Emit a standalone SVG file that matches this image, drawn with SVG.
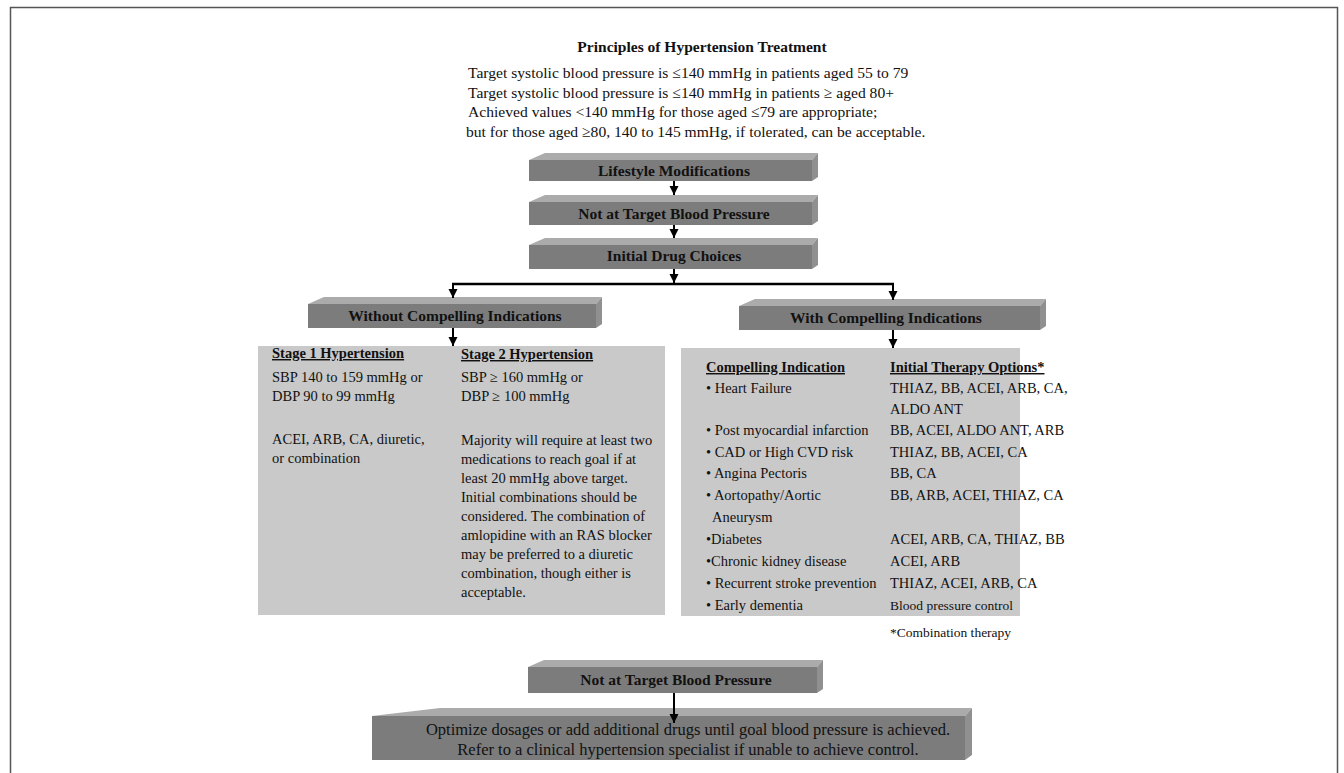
<svg xmlns="http://www.w3.org/2000/svg" width="1344" height="773" viewBox="0 0 1344 773">
<style>
text{font-family:"Liberation Serif","Times New Roman",serif;fill:#111}
.h{font-size:15.5px;font-weight:bold}
.b{font-size:15.6px}
.bb{font-size:16.5px;text-anchor:middle}
.p{font-size:14.5px}
.pb{font-size:14.5px;font-weight:bold;text-decoration:underline}
.lbl{font-size:15.5px;font-weight:bold;text-anchor:middle}
.face{fill:#7c7c7c}
.top{fill:#ababab}
.side{fill:#909090}
.panel{fill:#c9c9c9}
.conn{stroke:#000;stroke-width:2;fill:none}
</style>
<defs>
<marker id="ah" markerUnits="userSpaceOnUse" markerWidth="10" markerHeight="10" refX="9" refY="5" orient="auto">
<path d="M0,0.5 L9,5 L0,9.5 Z" fill="#000"/>
</marker>
</defs>
<rect x="0" y="0" width="1344" height="773" fill="#fff"/>
<g id="frame" fill="none" stroke="#555" stroke-width="1.5">
<path d="M10.5,773 V7.5 H1337.5 V773"/>
</g>
<g id="header">
<text class="h" x="702" y="52" text-anchor="middle">Principles of Hypertension Treatment</text>
<text class="b" x="468" y="78">Target systolic blood pressure is ≤140 mmHg in patients aged 55 to 79</text>
<text class="b" x="468" y="97.5">Target systolic blood pressure is ≤140 mmHg in patients ≥ aged 80+</text>
<text class="b" x="468" y="117">Achieved values &lt;140 mmHg for those aged ≤79 are appropriate;</text>
<text class="b" x="466" y="136.5">but for those aged ≥80, 140 to 145 mmHg, if tolerated, can be acceptable.</text>
</g>
<g id="lifestyle">
<polygon class="top" points="529,160 545,153 818,153 812,160"/>
<polygon class="side" points="812,160 818,153 818,177 812,181"/>
<rect class="face" x="529" y="160" width="283" height="21"/>
<text class="lbl" x="674" y="175.5">Lifestyle Modifications</text>
</g>
<g id="not-target-1">
<polygon class="top" points="529,202 545,195 818,195 812,202"/>
<polygon class="side" points="812,202 818,195 818,221 812,225"/>
<rect class="face" x="529" y="202" width="283" height="23"/>
<text class="lbl" x="674" y="218.5">Not at Target Blood Pressure</text>
</g>
<g id="initial-drug">
<polygon class="top" points="529,245 545,238 818,238 812,245"/>
<polygon class="side" points="812,245 818,238 818,265 812,269"/>
<rect class="face" x="529" y="245" width="283" height="24"/>
<text class="lbl" x="674" y="261">Initial Drug Choices</text>
</g>
<g id="without">
<polygon class="top" points="308,304 324,297 602,297 596,304"/>
<polygon class="side" points="596,304 602,297 602,324 596,328"/>
<rect class="face" x="308" y="304" width="288" height="24"/>
<text class="lbl" x="455" y="321">Without Compelling Indications</text>
</g>
<g id="with">
<polygon class="top" points="739,306 755,299 1046,299 1040,306"/>
<polygon class="side" points="1040,306 1046,299 1046,326 1040,330"/>
<rect class="face" x="739" y="306" width="301" height="24"/>
<text class="lbl" x="886" y="323">With Compelling Indications</text>
</g>
<g id="panel-without">
<rect class="panel" x="258" y="346" width="407" height="269"/>
<text class="pb" x="272" y="358">Stage 1 Hypertension</text>
<text class="p" x="272" y="382">SBP 140 to 159 mmHg or</text>
<text class="p" x="272" y="401">DBP 90 to 99 mmHg</text>
<text class="p" x="272" y="444">ACEI, ARB, CA, diuretic,</text>
<text class="p" x="272" y="463">or combination</text>
<text class="pb" x="461" y="359">Stage 2 Hypertension</text>
<text class="p" x="461" y="382">SBP ≥ 160 mmHg or</text>
<text class="p" x="461" y="401">DBP ≥ 100 mmHg</text>
<text class="p" x="461" y="445">Majority will require at least two</text>
<text class="p" x="461" y="464">medications to reach goal if at</text>
<text class="p" x="461" y="483">least 20 mmHg above target.</text>
<text class="p" x="461" y="502">Initial combinations should be</text>
<text class="p" x="461" y="521">considered. The combination of</text>
<text class="p" x="461" y="540">amlopidine with an RAS blocker</text>
<text class="p" x="461" y="559">may be preferred to a diuretic</text>
<text class="p" x="461" y="578">combination, though either is</text>
<text class="p" x="461" y="597">acceptable.</text>
</g>
<g id="panel-with">
<rect class="panel" x="681" y="348" width="339" height="268"/>
<text class="pb" x="706" y="372">Compelling Indication</text>
<text class="pb" x="890" y="372">Initial Therapy Options*</text>
<text class="p" x="706" y="393">• Heart Failure</text>
<text class="p" x="706" y="435">• Post myocardial infarction</text>
<text class="p" x="706" y="457">• CAD or High CVD risk</text>
<text class="p" x="706" y="478">• Angina Pectoris</text>
<text class="p" x="706" y="500">• Aortopathy/Aortic</text>
<text class="p" x="712" y="522">Aneurysm</text>
<text class="p" x="706" y="544">•Diabetes</text>
<text class="p" x="706" y="566">•Chronic kidney disease</text>
<text class="p" x="706" y="588">• Recurrent stroke prevention</text>
<text class="p" x="706" y="610">• Early dementia</text>
<text class="p" x="890" y="393">THIAZ, BB, ACEI, ARB, CA,</text>
<text class="p" x="890" y="414">ALDO ANT</text>
<text class="p" x="890" y="435">BB, ACEI, ALDO ANT, ARB</text>
<text class="p" x="890" y="457">THIAZ, BB, ACEI, CA</text>
<text class="p" x="890" y="478">BB, CA</text>
<text class="p" x="890" y="500">BB, ARB, ACEI, THIAZ, CA</text>
<text class="p" x="890" y="544">ACEI, ARB, CA, THIAZ, BB</text>
<text class="p" x="890" y="566">ACEI, ARB</text>
<text class="p" x="890" y="588">THIAZ, ACEI, ARB, CA</text>
<text x="890" y="610" style="font-size:13.5px">Blood pressure control</text>
<text x="890" y="637" style="font-size:13.5px">*Combination therapy</text>
</g>
<g id="not-target-2">
<polygon class="top" points="528,667 544,660 823,660 817,667"/>
<polygon class="side" points="817,667 823,660 823,689 817,693"/>
<rect class="face" x="528" y="667" width="289" height="26"/>
<text class="lbl" x="676" y="685">Not at Target Blood Pressure</text>
</g>
<g id="optimize">
<polygon class="top" points="372,716 440,708 972,708 965,716"/>
<polygon class="side" points="965,716 972,708 972,755 965,760"/>
<rect class="face" x="372" y="716" width="593" height="44"/>
<text class="bb" x="688" y="735">Optimize dosages or add additional drugs until goal blood pressure is achieved.</text>
<text class="bb" x="688" y="754.5">Refer to a clinical hypertension specialist if unable to achieve control.</text>
</g>
<g id="connectors">
<path class="conn" d="M674,181 V195" marker-end="url(#ah)"/>
<path class="conn" d="M674,225 V238" marker-end="url(#ah)"/>
<path class="conn" d="M674,269 V283" marker-end="url(#ah)"/>
<path class="conn" d="M452,284 H894" style="stroke-width:2.5"/>
<path class="conn" d="M453,283 V298" marker-end="url(#ah)"/>
<path class="conn" d="M893,283 V300" marker-end="url(#ah)"/>
<path class="conn" d="M453,328 V346" marker-end="url(#ah)"/>
<path class="conn" d="M893,330 V348" marker-end="url(#ah)"/>
<path class="conn" d="M674,693 V723" marker-end="url(#ah)"/>
</g>
</svg>
